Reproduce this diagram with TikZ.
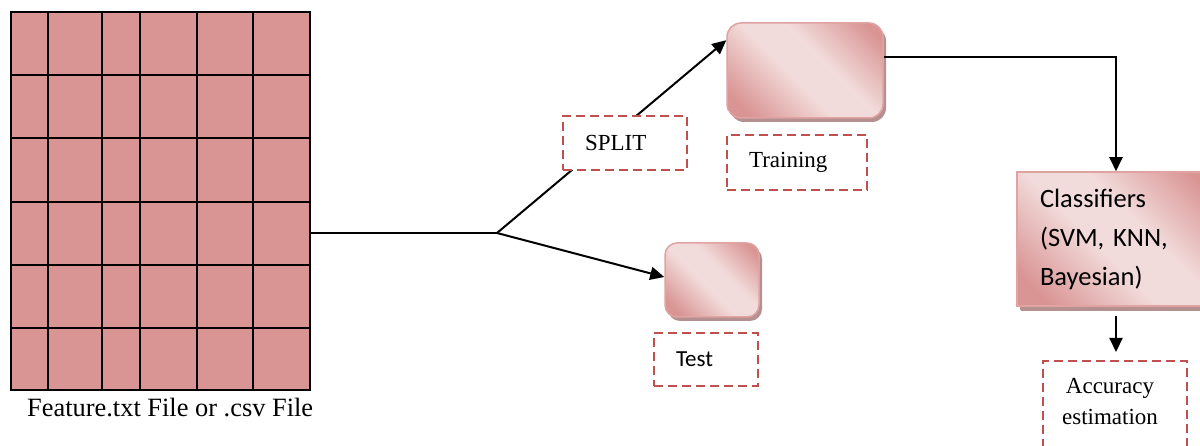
\documentclass[tikz,border=0pt]{standalone}
\usepackage{fontspec}
\setmainfont{Liberation Serif}
\newfontfamily\calibri{Carlito}
\usetikzlibrary{arrows.meta,shadows}

\definecolor{rosedark}{HTML}{D99594}
\definecolor{roselight}{HTML}{F2DCDB}
\definecolor{roseedge}{HTML}{E0A3A2}
\definecolor{roseshadow}{HTML}{B59090}
\definecolor{dashred}{HTML}{C0504D}

% diagonal band: dark corners, light middle
\pgfdeclarehorizontalshading{roseband}{100bp}{color(0bp)=(rosedark); color(22bp)=(rosedark); color(45bp)=(roselight); color(58bp)=(roselight); color(80bp)=(rosedark); color(100bp)=(rosedark)}

\begin{document}
\begin{tikzpicture}[x=1pt,y=-1pt,
  conn/.style={line width=2pt,black},
  arr/.style={conn,-{Triangle[length=14pt,width=13pt]}},
  rosebox/.style={draw=roseedge,line width=1.5pt,shading=roseband,shading angle=45,
    drop shadow={shadow xshift=3pt,shadow yshift=-4pt,fill=roseshadow,opacity=1}},
  lbl/.style={draw=dashred,line width=2.2pt,dash pattern=on 9pt off 5pt,fill=white,
    align=left,font=\fontsize{23}{28}\selectfont}
]
\clip (0,0) rectangle (1200,446);

% feature table
\node[draw,line width=2.2pt,fill=rosedark,minimum width=299pt,minimum height=378pt,inner sep=0]
  (grid) at (160.5,201) {};
\foreach \gx in {48.3,101.7,140,196.7,253.3}
  \draw[line width=2.2pt] (\gx,12) -- (\gx,390);
\foreach \gy in {75,137.7,201.7,265,328.3}
  \draw[line width=2.2pt] (11,\gy) -- (310,\gy);
\node[anchor=base west,inner sep=0,font=\fontsize{26.4}{30}\selectfont]
  (caption) at (27,416) {Feature.txt File or .csv File};

% process boxes
\node[rosebox,rounded corners=14pt,minimum width=156pt,minimum height=95pt] (train) at (805,70.5) {};
\node[rosebox,rounded corners=12pt,minimum width=94pt,minimum height=74pt] (test) at (712,280) {};
\node[rosebox,drop shadow={shadow xshift=4pt,shadow yshift=-5pt,fill=roseshadow,opacity=1},
  minimum width=198pt,minimum height=134pt,text width=152pt,inner xsep=23pt,align=left,
  font=\calibri\fontsize{26.5}{39}\selectfont] (clf) at (1116,239)
  {Classifiers\\(SVM, KNN,\\Bayesian)};

% connectors
\coordinate (j) at (497,233);
\draw[conn] (grid.east |- j) -- (j);
\draw[arr] (j) -- ([yshift=-18pt]train.north west);
\draw[arr] (j) -- ([yshift=3pt]test.west);
\draw[arr] ([yshift=13pt]train.east) -| (clf.north);

% dashed labels
\node[lbl,minimum width=124pt,minimum height=54pt,text width=80pt,inner xsep=22pt] (split) at (625,143) {SPLIT};
\node[lbl,minimum width=140pt,minimum height=55pt,text width=96pt,inner xsep=22pt] (trainlbl) at (797,162.5) {Training};
\node[lbl,minimum width=104pt,minimum height=53pt,text width=60pt,inner xsep=22pt,
  font=\calibri\fontsize{23}{28}\selectfont] (testlbl) at (706,359.5) {Test};
\node[lbl,minimum width=144pt,minimum height=110pt,anchor=north] (acc) at (1115,360) {};
\node[align=center,inner sep=0,font=\fontsize{23}{31}\selectfont]
  (acctext) at ([xshift=-5pt,yshift=-42pt]acc.north) {Accuracy\\estimation};

\draw[arr,shorten <=9pt,shorten >=8pt] (clf.south) -- (clf.south |- acc.north);
\end{tikzpicture}
\end{document}
